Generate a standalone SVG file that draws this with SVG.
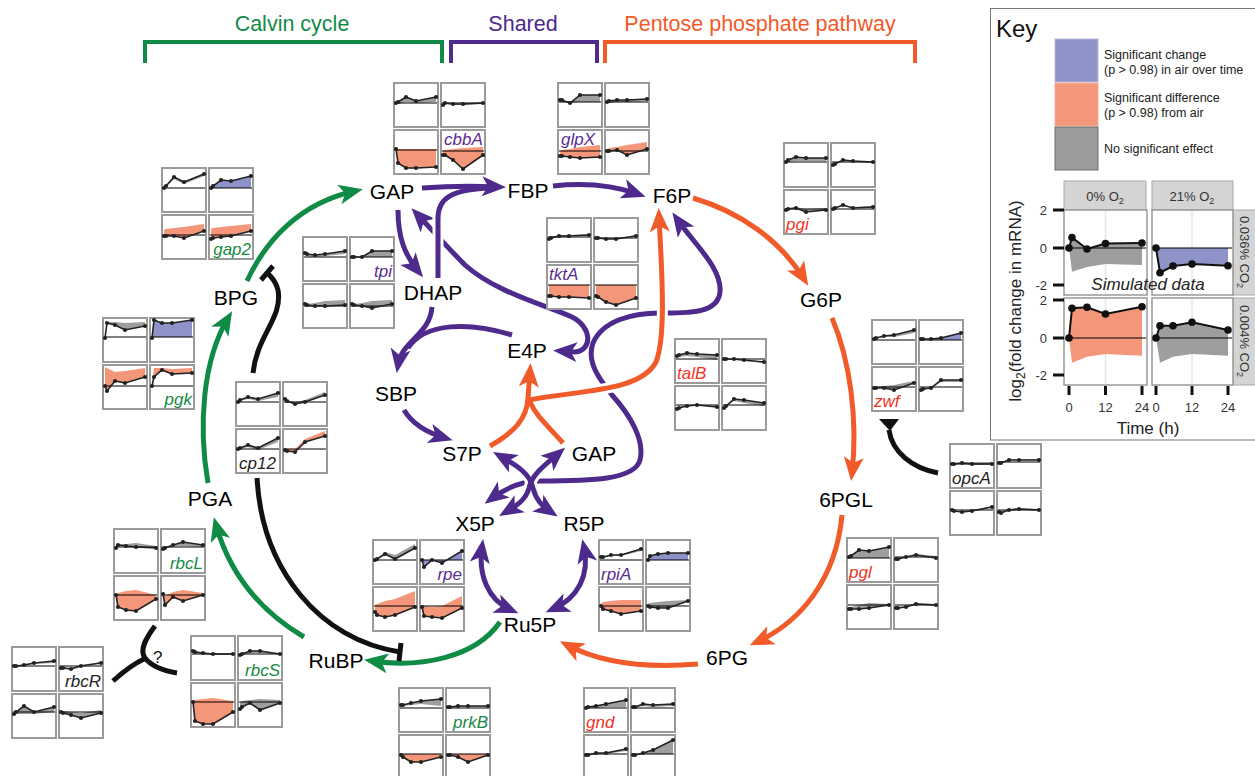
<svg xmlns="http://www.w3.org/2000/svg" width="1255" height="776" viewBox="0 0 1255 776">
<style>
text{font-family:"Liberation Sans",Arial,sans-serif}
.n{font-size:21px;fill:#000;text-anchor:middle}
.ti{font-size:21.5px;text-anchor:middle}
.bx{fill:#fff;stroke:#9a9a9a;stroke-width:2}
.z{stroke:#000;stroke-width:1}
.d{fill:none;stroke:#222;stroke-width:1.6;marker-start:url(#dot);marker-mid:url(#dot);marker-end:url(#dot)}
.g{fill:#9e9e9e}.o{fill:#f4967a}.b{fill:#8d92c8}
.gl{font-size:17px;font-style:italic}
.lg{fill:#178a45}.lp{fill:#5a2d91}.lr{fill:#ee3224}.lk{fill:#222}
.e{text-anchor:end}
.c{fill:none;stroke-width:5}
.cg{stroke:#0f8b45}.cp{stroke:#4d2a8c}.co{stroke:#f15a29}.ck{stroke:#111}
.h{fill:none;stroke:#fff;stroke-width:11}
.ag{marker-end:url(#mg)}.ap{marker-end:url(#mp)}.ao{marker-end:url(#mo)}
.pp{marker-start:url(#mp);marker-end:url(#mp)}
.kt{font-size:12.5px;fill:#222}
.ax{font-size:13px;fill:#333}
</style>
<defs>
<marker id="dot" markerUnits="userSpaceOnUse" viewBox="0 0 6 6" markerWidth="6" markerHeight="6" refX="3" refY="3"><circle cx="3" cy="3" r="2.1" fill="#222"/></marker>
<marker id="mg" markerUnits="userSpaceOnUse" viewBox="-20 -12 30 24" markerWidth="30" markerHeight="24" refX="0" refY="0" orient="auto-start-reverse"><path d="M8,0 L-16,-10 L-10,0 L-16,10Z" fill="#0f8b45"/></marker>
<marker id="mp" markerUnits="userSpaceOnUse" viewBox="-20 -12 30 24" markerWidth="30" markerHeight="24" refX="0" refY="0" orient="auto-start-reverse"><path d="M8,0 L-16,-10 L-10,0 L-16,10Z" fill="#4d2a8c"/></marker>
<marker id="mo" markerUnits="userSpaceOnUse" viewBox="-20 -12 30 24" markerWidth="30" markerHeight="24" refX="0" refY="0" orient="auto-start-reverse"><path d="M8,0 L-16,-10 L-10,0 L-16,10Z" fill="#f15a29"/></marker>
</defs>
<rect width="1255" height="776" fill="#fff"/>

<g id="headers">
<text class="ti" x="292" y="31" fill="#0f8b45">Calvin cycle</text>
<text class="ti" x="523" y="31" fill="#4d2a8c">Shared</text>
<text class="ti" x="760" y="31" fill="#f15a29">Pentose phosphate pathway</text>
<path d="M145,63 V42 H442 V63" fill="none" stroke="#0f8b45" stroke-width="4"/>
<path d="M451,63 V42 H597 V63" fill="none" stroke="#4d2a8c" stroke-width="4"/>
<path d="M605,63 V42 H915 V63" fill="none" stroke="#f15a29" stroke-width="4"/>
</g>

<g id="connectors">
<path class="c cg ag" d="M247,281 C266,240 300,203 355,191"/>
<path class="c cg ag" d="M208,483 C198,425 203,360 228,318"/>
<path class="c cg ag" d="M304,637 C262,612 230,575 216,525"/>
<path class="c cg ag" d="M500,622 C475,658 420,668 372,661"/>
<path class="c ck" d="M253,373 C257,335 283,318 278,290 C276,282 272,277 267,273"/>
<path class="c ck" d="M261,280 L273,266"/>
<path class="c ck" d="M257,478 C262,570 320,640 400,652"/>
<path class="c ck" d="M401,643 L399,661"/>
<path class="c ck" d="M113,681 C123,672 133,664 144,659"/>
<path class="c ck" d="M155,626 C146,638 139,650 145,658 C152,667 165,671 177,673"/>
<text x="153" y="663" font-size="17" fill="#111">?</text>
<path class="c ck" d="M938,473 C912,468 892,452 889,430"/>
<polygon points="879,419 899,419 890,431" fill="#111"/>

<path class="c cp pp" d="M417,214 C432,230 448,248 465,265 C495,292 545,305 572,317 C592,327 593,350 575,352 L561,351"/>
<path class="c cp pp" d="M677,219 C695,245 722,268 720,292 C718,313 690,313 665,313 C630,312 602,322 593,343 C586,362 600,380 612,395 C630,415 645,440 640,460 C635,480 590,481 540,481 C520,481 503,490 491,499"/>
<path class="h" d="M438,278 L438,218 C438,198 452,189 492,188"/>
<path class="c cp" d="M438,278 L438,218 C438,198 452,189 492,188"/>
<path class="c cp ap" d="M422,188 C450,186 475,186 498,187"/>
<path class="c cp ap" d="M553,186 C590,182 615,186 638,194"/>
<path class="c cp ap" d="M398,210 C398,238 405,255 418,271"/>
<path class="c cp ap" d="M432,307 C430,335 402,340 398,365"/>
<path class="c cp" d="M512,335 C470,322 425,322 408,348"/>
<path class="c cp ap" d="M404,410 C413,425 428,433 445,438"/>

<path class="h" d="M529,400 C580,390 640,392 656,362 C667,335 661,260 659,222"/>
<path class="c co ao" d="M529,400 C580,390 640,392 656,362 C667,335 661,260 659,216"/>
<path class="c co" d="M563,443 C548,426 536,416 530,402"/>
<path class="c co ao" d="M490,446 C515,432 527,418 528,398 L530,371"/>
<path class="c co ao" d="M693,198 C740,212 780,240 804,279"/>
<path class="c co ao" d="M832,318 C850,360 858,420 852,473"/>
<path class="c co ao" d="M842,515 C836,580 800,622 757,642"/>
<path class="c co ao" d="M698,664 C650,668 605,665 567,645"/>

<path class="h" d="M500,456 C518,466 530,474 533,488 C536,500 542,506 551,512"/>
<path class="h" d="M559,453 C545,465 532,474 529,488 C526,500 516,506 506,512"/>
<path class="c cp pp" d="M500,456 C518,466 530,474 533,488 C536,500 542,506 551,512"/>
<path class="c cp pp" d="M559,453 C545,465 532,474 529,488 C526,500 516,506 506,512"/>
<path class="c cp pp" d="M482,547 C478,575 488,600 511,610"/>
<path class="c cp pp" d="M584,547 C590,575 578,598 553,609"/>
</g>

<g id="node-GAP"><text class="n" x="392" y="199">GAP</text></g>
<g id="node-FBP"><text class="n" x="528" y="198">FBP</text></g>
<g id="node-F6P"><text class="n" x="672" y="203">F6P</text></g>
<g id="node-DHAP"><text class="n" x="433" y="300">DHAP</text></g>
<g id="node-E4P"><text class="n" x="527" y="358">E4P</text></g>
<g id="node-SBP"><text class="n" x="396" y="401">SBP</text></g>
<g id="node-S7P"><text class="n" x="462" y="461">S7P</text></g>
<g id="node-GAP2"><text class="n" x="594" y="461">GAP</text></g>
<g id="node-X5P"><text class="n" x="475" y="531">X5P</text></g>
<g id="node-R5P"><text class="n" x="584" y="531">R5P</text></g>
<g id="node-Ru5P"><text class="n" x="530" y="632">Ru5P</text></g>
<g id="node-RuBP"><text class="n" x="336" y="668">RuBP</text></g>
<g id="node-PGA"><text class="n" x="210" y="506">PGA</text></g>
<g id="node-BPG"><text class="n" x="236" y="305">BPG</text></g>
<g id="node-G6P"><text class="n" x="821" y="307">G6P</text></g>
<g id="node-6PGL"><text class="n" x="846" y="507">6PGL</text></g>
<g id="node-6PG"><text class="n" x="727" y="665">6PG</text></g>

<g id="gene-cbbA">
<g transform="translate(394,83)"><rect class="bx" width="44" height="44"/><polygon class="g" points="2,20 4,19 12,14 22,18 42,14 42,19 22,20 12,19 4,21 2,21"/><line class="z" x1="1" x2="43" y1="20" y2="20"/><polyline class="d" points="2,20 4,19 12,14 22,18 42,14"/></g>
<g transform="translate(441,83)"><rect class="bx" width="44" height="44"/><polygon class="g" points="2,22 4,20 12,21 22,21 42,20 42,21 22,22 12,22 4,21 2,21"/><line class="z" x1="1" x2="43" y1="20" y2="20"/><polyline class="d" points="2,22 4,20 12,21 22,21 42,20"/></g>
<g transform="translate(394,130)"><rect class="bx" width="44" height="44"/><polygon class="o" points="2,19 4,33 12,38 22,38 42,37 42,19 22,19 12,19 4,19 2,19"/><line class="z" x1="1" x2="43" y1="20" y2="20"/><polyline class="d" points="2,19 4,33 12,38 22,38 42,37"/></g>
<g transform="translate(441,130)"><rect class="bx" width="44" height="44"/><polygon class="o" points="2,25 4,25 12,30 22,39 42,25 42,17 22,18 12,19 4,20 2,21"/><line class="z" x1="1" x2="43" y1="21" y2="21"/><polyline class="d" points="2,25 4,25 12,30 22,39 42,25"/></g>
<text class="gl lp" x="444" y="145">cbbA</text>
</g>

<g id="gene-glpX">
<g transform="translate(558,83)"><rect class="bx" width="44" height="44"/><polygon class="g" points="2,17 4,17 12,20 22,12 42,12 42,19 22,19 12,20 4,19 2,19"/><line class="z" x1="1" x2="43" y1="19" y2="19"/><polyline class="d" points="2,17 4,17 12,20 22,12 42,12"/></g>
<g transform="translate(605,83)"><rect class="bx" width="44" height="44"/><polygon class="g" points="2,19 4,18 12,17 22,17 42,16 42,18 22,19 12,19 4,20 2,20"/><line class="z" x1="1" x2="43" y1="19" y2="19"/><polyline class="d" points="2,19 4,18 12,17 22,17 42,16"/></g>
<g transform="translate(558,130)"><rect class="bx" width="44" height="44"/><polygon class="o" points="2,26 4,26 12,27 22,28 42,27 42,15 22,17 12,19 4,20 2,21"/><line class="z" x1="1" x2="43" y1="21" y2="21"/><polyline class="d" points="2,26 4,26 12,27 22,28 42,27"/></g>
<g transform="translate(605,130)"><rect class="bx" width="44" height="44"/><polygon class="o" points="2,21 4,21 12,20 22,25 42,19 42,12 22,15 12,17 4,18 2,19"/><line class="z" x1="1" x2="43" y1="21" y2="21"/><polyline class="d" points="2,21 4,21 12,20 22,25 42,19"/></g>
<text class="gl lp" x="561" y="145">glpX</text>
</g>

<g id="gene-gap2">
<g transform="translate(162,168)"><rect class="bx" width="44" height="44"/><polygon class="g" points="2,20 4,18 12,9 22,14 42,6 42,8 22,16 12,11 4,19 2,20"/><line class="z" x1="1" x2="43" y1="20" y2="20"/><polyline class="d" points="2,20 4,18 12,9 22,14 42,6"/></g>
<g transform="translate(209,168)"><rect class="bx" width="44" height="44"/><polygon class="b" points="2,20 4,18 12,12 22,13 42,8 42,20 22,20 12,20 4,20 2,20"/><line class="z" x1="1" x2="43" y1="20" y2="20"/><polyline class="d" points="2,20 4,18 12,12 22,13 42,8"/></g>
<g transform="translate(162,215)"><rect class="bx" width="44" height="44"/><polygon class="o" points="2,21 4,21 12,21 22,23 42,16 42,9 22,12 12,13 4,14 2,15"/><line class="z" x1="1" x2="43" y1="20" y2="20"/><polyline class="d" points="2,21 4,21 12,21 22,23 42,16"/></g>
<g transform="translate(209,215)"><rect class="bx" width="44" height="44"/><polygon class="o" points="2,24 4,23 12,22 22,21 42,16 42,9 22,11 12,12 4,13 2,14"/><line class="z" x1="1" x2="43" y1="20" y2="20"/><polyline class="d" points="2,24 4,23 12,22 22,21 42,16"/></g>
<text class="gl lg e" x="251" y="255">gap2</text>
</g>

<g id="gene-tpi">
<g transform="translate(303,237)"><rect class="bx" width="44" height="44"/><polygon class="g" points="2,16 4,17 12,18 22,17 42,14 42,17 22,19 12,20 4,19 2,18"/><line class="z" x1="1" x2="43" y1="20" y2="20"/><polyline class="d" points="2,16 4,17 12,18 22,17 42,14"/></g>
<g transform="translate(350,237)"><rect class="bx" width="44" height="44"/><polygon class="g" points="2,20 4,20 12,20 22,14 42,14 42,20 22,20 12,20 4,20 2,20"/><line class="z" x1="1" x2="43" y1="20" y2="20"/><polyline class="d" points="2,20 4,20 12,20 22,14 42,14"/></g>
<g transform="translate(303,284)"><rect class="bx" width="44" height="44"/><polygon class="g" points="2,20 4,21 12,22 22,22 42,21 42,16 22,17 12,19 4,20 2,20"/><line class="z" x1="1" x2="43" y1="22" y2="22"/><polyline class="d" points="2,20 4,21 12,22 22,22 42,21"/></g>
<g transform="translate(350,284)"><rect class="bx" width="44" height="44"/><polygon class="g" points="2,20 4,21 12,22 22,24 42,20 42,16 22,17 12,19 4,20 2,20"/><line class="z" x1="1" x2="43" y1="22" y2="22"/><polyline class="d" points="2,20 4,21 12,22 22,24 42,20"/></g>
<text class="gl lp e" x="392" y="277">tpi</text>
</g>

<g id="gene-tktA">
<g transform="translate(547,218)"><rect class="bx" width="44" height="44"/><polygon class="g" points="2,21 4,20 12,18 22,18 42,17 42,16 22,17 12,17 4,19 2,19"/><line class="z" x1="1" x2="43" y1="19" y2="19"/><polyline class="d" points="2,21 4,20 12,18 22,18 42,17"/></g>
<g transform="translate(594,218)"><rect class="bx" width="44" height="44"/><polygon class="g" points="2,20 4,20 12,21 22,21 42,18 42,17 22,20 12,20 4,19 2,19"/><line class="z" x1="1" x2="43" y1="20" y2="20"/><polyline class="d" points="2,20 4,20 12,21 22,21 42,18"/></g>
<g transform="translate(547,265)"><rect class="bx" width="44" height="44"/><polygon class="o" points="2,31 4,31 12,32 22,32 42,33 42,20 22,20 12,20 4,20 2,20"/><line class="z" x1="1" x2="43" y1="20" y2="20"/><polyline class="d" points="2,31 4,31 12,32 22,32 42,33"/></g>
<g transform="translate(594,265)"><rect class="bx" width="44" height="44"/><polygon class="o" points="2,31 4,32 12,37 22,40 42,33 42,20 22,20 12,20 4,20 2,20"/><line class="z" x1="1" x2="43" y1="20" y2="20"/><polyline class="d" points="2,31 4,32 12,37 22,40 42,33"/></g>
<text class="gl lp" x="549" y="280">tktA</text>
</g>

<g id="gene-pgk">
<g transform="translate(103,318)"><rect class="bx" width="44" height="44"/><polygon class="g" points="2,20 4,5 12,7 22,12 42,8 42,4 22,5 12,4 4,4 2,20"/><line class="z" x1="1" x2="43" y1="19" y2="19"/><polyline class="d" points="2,20 4,5 12,7 22,12 42,8"/></g>
<g transform="translate(150,318)"><rect class="bx" width="44" height="44"/><polygon class="b" points="2,20 4,2 12,5 22,5 42,2 42,19 22,19 12,19 4,19 2,19"/><line class="z" x1="1" x2="43" y1="19" y2="19"/><polyline class="d" points="2,20 4,2 12,5 22,5 42,2"/></g>
<g transform="translate(103,365)"><rect class="bx" width="44" height="44"/><polygon class="o" points="2,21 4,26 12,16 22,18 42,12 42,3 22,6 12,7 4,3 2,2"/><line class="z" x1="1" x2="43" y1="21" y2="21"/><polyline class="d" points="2,21 4,26 12,16 22,18 42,12"/></g>
<g transform="translate(150,365)"><rect class="bx" width="44" height="44"/><polygon class="o" points="2,21 4,12 12,5 22,9 42,8 42,3 22,4 12,3 4,3 2,21"/><line class="z" x1="1" x2="43" y1="21" y2="21"/><polyline class="d" points="2,21 4,12 12,5 22,9 42,8"/></g>
<text class="gl lg e" x="192" y="405">pgk</text>
</g>

<g id="gene-cp12">
<g transform="translate(236,382)"><rect class="bx" width="44" height="44"/><polygon class="g" points="2,20 4,18 12,15 22,17 42,11 42,15 22,19 12,17 4,19 2,20"/><line class="z" x1="1" x2="43" y1="20" y2="20"/><polyline class="d" points="2,20 4,18 12,15 22,17 42,11"/></g>
<g transform="translate(283,382)"><rect class="bx" width="44" height="44"/><polygon class="g" points="2,17 4,19 12,22 22,20 42,13 42,10 22,18 12,20 4,18 2,17"/><line class="z" x1="1" x2="43" y1="20" y2="20"/><polyline class="d" points="2,17 4,19 12,22 22,20 42,13"/></g>
<g transform="translate(236,429)"><rect class="bx" width="44" height="44"/><polygon class="g" points="2,20 4,19 12,16 22,19 42,9 42,13 22,21 12,18 4,20 2,20"/><line class="z" x1="1" x2="43" y1="20" y2="20"/><polyline class="d" points="2,20 4,19 12,16 22,19 42,9"/></g>
<g transform="translate(283,429)"><rect class="bx" width="44" height="44"/><polygon class="o" points="2,21 4,22 12,23 22,13 42,7 42,2 22,10 12,20 4,20 2,20"/><line class="z" x1="1" x2="43" y1="20" y2="20"/><polyline class="d" points="2,21 4,22 12,23 22,13 42,7"/></g>
<text class="gl lk" x="239" y="469">cp12</text>
</g>

<g id="gene-rpe">
<g transform="translate(373,540)"><rect class="bx" width="44" height="44"/><polygon class="g" points="2,20 4,19 12,14 22,19 42,8 42,4 22,15 12,12 4,19 2,20"/><line class="z" x1="1" x2="43" y1="20" y2="20"/><polyline class="d" points="2,20 4,19 12,14 22,19 42,8"/></g>
<g transform="translate(420,540)"><rect class="bx" width="44" height="44"/><polygon class="b" points="2,20 4,27 12,20 22,23 42,11 42,20 22,20 12,20 4,20 2,20"/><line class="z" x1="1" x2="43" y1="20" y2="20"/><polyline class="d" points="2,20 4,27 12,20 22,23 42,11"/></g>
<g transform="translate(373,587)"><rect class="bx" width="44" height="44"/><polygon class="o" points="2,25 4,28 12,30 22,28 42,20 42,4 22,12 12,14 4,17 2,18"/><line class="z" x1="1" x2="43" y1="19" y2="19"/><polyline class="d" points="2,25 4,28 12,30 22,28 42,20"/></g>
<g transform="translate(420,587)"><rect class="bx" width="44" height="44"/><polygon class="o" points="2,20 4,29 12,30 22,31 42,21 42,9 22,19 12,20 4,19 2,18"/><line class="z" x1="1" x2="43" y1="19" y2="19"/><polyline class="d" points="2,20 4,29 12,30 22,31 42,21"/></g>
<text class="gl lp e" x="462" y="580">rpe</text>
</g>

<g id="gene-rpiA">
<g transform="translate(599,540)"><rect class="bx" width="44" height="44"/><polygon class="g" points="2,17 4,17 12,15 22,15 42,9 42,11 22,16 12,16 4,18 2,18"/><line class="z" x1="1" x2="43" y1="20" y2="20"/><polyline class="d" points="2,17 4,17 12,15 22,15 42,9"/></g>
<g transform="translate(646,540)"><rect class="bx" width="44" height="44"/><polygon class="b" points="2,20 4,16 12,14 22,13 42,13 42,20 22,20 12,20 4,20 2,20"/><line class="z" x1="1" x2="43" y1="20" y2="20"/><polyline class="d" points="2,20 4,16 12,14 22,13 42,13"/></g>
<g transform="translate(599,587)"><rect class="bx" width="44" height="44"/><polygon class="o" points="2,19 4,22 12,24 22,27 42,24 42,13 22,13 12,14 4,15 2,17"/><line class="z" x1="1" x2="43" y1="19" y2="19"/><polyline class="d" points="2,19 4,22 12,24 22,27 42,24"/></g>
<g transform="translate(646,587)"><rect class="bx" width="44" height="44"/><polygon class="g" points="2,19 4,20 12,21 22,21 42,14 42,13 22,14 12,15 4,16 2,17"/><line class="z" x1="1" x2="43" y1="19" y2="19"/><polyline class="d" points="2,19 4,20 12,21 22,21 42,14"/></g>
<text class="gl lp" x="601" y="580">rpiA</text>
</g>

<g id="gene-rbcL">
<g transform="translate(114,529)"><rect class="bx" width="44" height="44"/><polygon class="g" points="2,19 4,16 12,17 22,18 42,19 42,17 22,14 12,15 4,15 2,18"/><line class="z" x1="1" x2="43" y1="18" y2="18"/><polyline class="d" points="2,19 4,16 12,17 22,18 42,19"/></g>
<g transform="translate(161,529)"><rect class="bx" width="44" height="44"/><polygon class="g" points="2,20 4,19 12,16 22,13 42,16 42,18 22,17 12,17 4,19 2,20"/><line class="z" x1="1" x2="43" y1="18" y2="18"/><polyline class="d" points="2,20 4,19 12,16 22,13 42,16"/></g>
<g transform="translate(114,576)"><rect class="bx" width="44" height="44"/><polygon class="o" points="2,19 4,31 12,34 22,35 42,23 42,19 22,14 12,15 4,17 2,19"/><line class="z" x1="1" x2="43" y1="19" y2="19"/><polyline class="d" points="2,19 4,31 12,34 22,35 42,23"/></g>
<g transform="translate(161,576)"><rect class="bx" width="44" height="44"/><polygon class="o" points="2,18 4,29 12,21 22,25 42,19 42,17 22,14 12,16 4,20 2,18"/><line class="z" x1="1" x2="43" y1="19" y2="19"/><polyline class="d" points="2,18 4,29 12,21 22,25 42,19"/></g>
<text class="gl lg e" x="203" y="569">rbcL</text>
</g>

<g id="gene-rbcR">
<g transform="translate(12,647)"><rect class="bx" width="44" height="44"/><polygon class="g" points="2,19 4,19 12,18 22,16 42,14 42,16 22,17 12,19 4,20 2,20"/><line class="z" x1="1" x2="43" y1="19" y2="19"/><polyline class="d" points="2,19 4,19 12,18 22,16 42,14"/></g>
<g transform="translate(59,647)"><rect class="bx" width="44" height="44"/><polygon class="g" points="2,21 4,21 12,22 22,19 42,16 42,15 22,18 12,21 4,20 2,20"/><line class="z" x1="1" x2="43" y1="19" y2="19"/><polyline class="d" points="2,21 4,21 12,22 22,19 42,16"/></g>
<g transform="translate(12,694)"><rect class="bx" width="44" height="44"/><polygon class="g" points="2,20 4,18 12,12 22,18 42,13 42,18 22,20 12,20 4,20 2,21"/><line class="z" x1="1" x2="43" y1="18" y2="18"/><polyline class="d" points="2,20 4,18 12,12 22,18 42,13"/></g>
<g transform="translate(59,694)"><rect class="bx" width="44" height="44"/><polygon class="g" points="2,18 4,19 12,21 22,24 42,19 42,16 22,19 12,18 4,17 2,17"/><line class="z" x1="1" x2="43" y1="18" y2="18"/><polyline class="d" points="2,18 4,19 12,21 22,24 42,19"/></g>
<text class="gl lk e" x="101" y="687">rbcR</text>
</g>

<g id="gene-rbcS">
<g transform="translate(191,636)"><rect class="bx" width="44" height="44"/><polygon class="g" points="2,15 4,16 12,17 22,18 42,18 42,19 22,19 12,18 4,17 2,16"/><line class="z" x1="1" x2="43" y1="18" y2="18"/><polyline class="d" points="2,15 4,16 12,17 22,18 42,18"/></g>
<g transform="translate(238,636)"><rect class="bx" width="44" height="44"/><polygon class="g" points="2,19 4,18 12,15 22,15 42,18 42,18 22,17 12,17 4,19 2,19"/><line class="z" x1="1" x2="43" y1="18" y2="18"/><polyline class="d" points="2,19 4,18 12,15 22,15 42,18"/></g>
<g transform="translate(191,683)"><rect class="bx" width="44" height="44"/><polygon class="o" points="2,19 4,38 12,41 22,41 42,29 42,18 22,15 12,16 4,17 2,18"/><line class="z" x1="1" x2="43" y1="19" y2="19"/><polyline class="d" points="2,19 4,38 12,41 22,41 42,29"/></g>
<g transform="translate(238,683)"><rect class="bx" width="44" height="44"/><polygon class="g" points="2,26 4,24 12,20 22,27 42,20 42,17 22,16 12,17 4,18 2,20"/><line class="z" x1="1" x2="43" y1="19" y2="19"/><polyline class="d" points="2,26 4,24 12,20 22,27 42,20"/></g>
<text class="gl lg e" x="280" y="676">rbcS</text>
</g>

<g id="gene-prkB">
<g transform="translate(399,688)"><rect class="bx" width="44" height="44"/><polygon class="g" points="2,17 4,17 12,15 22,13 42,11 42,18 22,16 12,17 4,18 2,18"/><line class="z" x1="1" x2="43" y1="20" y2="20"/><polyline class="d" points="2,17 4,17 12,15 22,13 42,11"/></g>
<g transform="translate(446,688)"><rect class="bx" width="44" height="44"/><polygon class="g" points="2,19 4,19 12,18 22,18 42,18 42,19 22,19 12,19 4,20 2,20"/><line class="z" x1="1" x2="43" y1="20" y2="20"/><polyline class="d" points="2,19 4,19 12,18 22,18 42,18"/></g>
<g transform="translate(399,735)"><rect class="bx" width="44" height="44"/><polygon class="o" points="2,20 4,22 12,27 22,27 42,22 42,19 22,19 12,19 4,19 2,19"/><line class="z" x1="1" x2="43" y1="19" y2="19"/><polyline class="d" points="2,20 4,22 12,27 22,27 42,22"/></g>
<g transform="translate(446,735)"><rect class="bx" width="44" height="44"/><polygon class="o" points="2,20 4,20 12,22 22,27 42,20 42,19 22,19 12,19 4,19 2,19"/><line class="z" x1="1" x2="43" y1="19" y2="19"/><polyline class="d" points="2,20 4,20 12,22 22,27 42,20"/></g>
<text class="gl lg e" x="488" y="728">prkB</text>
</g>

<g id="gene-gnd">
<g transform="translate(584,688)"><rect class="bx" width="44" height="44"/><polygon class="g" points="2,20 4,19 12,18 22,16 42,12 42,19 22,19 12,20 4,20 2,20"/><line class="z" x1="1" x2="43" y1="20" y2="20"/><polyline class="d" points="2,20 4,19 12,18 22,16 42,12"/></g>
<g transform="translate(631,688)"><rect class="bx" width="44" height="44"/><polygon class="g" points="2,19 4,19 12,16 22,17 42,16 42,18 22,19 12,18 4,20 2,20"/><line class="z" x1="1" x2="43" y1="20" y2="20"/><polyline class="d" points="2,19 4,19 12,16 22,17 42,16"/></g>
<g transform="translate(584,735)"><rect class="bx" width="44" height="44"/><polygon class="g" points="2,20 4,20 12,18 22,18 42,14 42,16 22,19 12,19 4,21 2,21"/><line class="z" x1="1" x2="43" y1="19" y2="19"/><polyline class="d" points="2,20 4,20 12,18 22,18 42,14"/></g>
<g transform="translate(631,735)"><rect class="bx" width="44" height="44"/><polygon class="g" points="2,20 4,20 12,18 22,15 42,5 42,19 22,19 12,19 4,20 2,20"/><line class="z" x1="1" x2="43" y1="19" y2="19"/><polyline class="d" points="2,20 4,20 12,18 22,15 42,5"/></g>
<text class="gl lr" x="586" y="728">gnd</text>
</g>

<g id="gene-pgi">
<g transform="translate(784,143)"><rect class="bx" width="44" height="44"/><polygon class="g" points="2,19 4,17 12,14 22,15 42,15 42,18 22,18 12,18 4,19 2,19"/><line class="z" x1="1" x2="43" y1="19" y2="19"/><polyline class="d" points="2,19 4,17 12,14 22,15 42,15"/></g>
<g transform="translate(831,143)"><rect class="bx" width="44" height="44"/><polygon class="g" points="2,22 4,21 12,17 22,18 42,19 42,20 22,19 12,18 4,21 2,22"/><line class="z" x1="1" x2="43" y1="19" y2="19"/><polyline class="d" points="2,22 4,21 12,17 22,18 42,19"/></g>
<g transform="translate(784,190)"><rect class="bx" width="44" height="44"/><polygon class="g" points="2,20 4,19 12,18 22,22 42,20 42,18 22,19 12,17 4,18 2,19"/><line class="z" x1="1" x2="43" y1="19" y2="19"/><polyline class="d" points="2,20 4,19 12,18 22,22 42,20"/></g>
<g transform="translate(831,190)"><rect class="bx" width="44" height="44"/><polygon class="g" points="2,19 4,18 12,15 22,18 42,17 42,16 22,17 12,16 4,18 2,19"/><line class="z" x1="1" x2="43" y1="19" y2="19"/><polyline class="d" points="2,19 4,18 12,15 22,18 42,17"/></g>
<text class="gl lr" x="786" y="230">pgi</text>
</g>

<g id="gene-talB">
<g transform="translate(675,339)"><rect class="bx" width="44" height="44"/><polygon class="g" points="2,17 4,16 12,14 22,15 42,16 42,21 22,18 12,17 4,18 2,18"/><line class="z" x1="1" x2="43" y1="20" y2="20"/><polyline class="d" points="2,17 4,16 12,14 22,15 42,16"/></g>
<g transform="translate(722,339)"><rect class="bx" width="44" height="44"/><polygon class="g" points="2,20 4,20 12,20 22,21 42,23 42,24 22,22 12,21 4,20 2,20"/><line class="z" x1="1" x2="43" y1="20" y2="20"/><polyline class="d" points="2,20 4,20 12,20 22,21 42,23"/></g>
<g transform="translate(675,386)"><rect class="bx" width="44" height="44"/><polygon class="g" points="2,23 4,22 12,20 22,19 42,21 42,20 22,19 12,19 4,21 2,22"/><line class="z" x1="1" x2="43" y1="19" y2="19"/><polyline class="d" points="2,23 4,22 12,20 22,19 42,21"/></g>
<g transform="translate(722,386)"><rect class="bx" width="44" height="44"/><polygon class="g" points="2,22 4,20 12,13 22,14 42,17 42,20 22,17 12,15 4,21 2,22"/><line class="z" x1="1" x2="43" y1="19" y2="19"/><polyline class="d" points="2,22 4,20 12,13 22,14 42,17"/></g>
<text class="gl lr" x="677" y="379">talB</text>
</g>

<g id="gene-zwf">
<g transform="translate(872,320)"><rect class="bx" width="44" height="44"/><polygon class="g" points="2,19 4,18 12,16 22,15 42,10 42,13 22,17 12,17 4,19 2,20"/><line class="z" x1="1" x2="43" y1="20" y2="20"/><polyline class="d" points="2,19 4,18 12,16 22,15 42,10"/></g>
<g transform="translate(919,320)"><rect class="bx" width="44" height="44"/><polygon class="b" points="2,19 4,19 12,19 22,18 42,13 42,20 22,20 12,20 4,20 2,20"/><line class="z" x1="1" x2="43" y1="20" y2="20"/><polyline class="d" points="2,19 4,19 12,19 22,18 42,13"/></g>
<g transform="translate(872,367)"><rect class="bx" width="44" height="44"/><polygon class="g" points="2,21 4,21 12,21 22,23 42,16 42,14 22,18 12,19 4,20 2,20"/><line class="z" x1="1" x2="43" y1="20" y2="20"/><polyline class="d" points="2,21 4,21 12,21 22,23 42,16"/></g>
<g transform="translate(919,367)"><rect class="bx" width="44" height="44"/><polygon class="g" points="2,23 4,22 12,21 22,13 42,13 42,15 22,15 12,22 4,22 2,22"/><line class="z" x1="1" x2="43" y1="20" y2="20"/><polyline class="d" points="2,23 4,22 12,21 22,13 42,13"/></g>
<text class="gl lr" x="874" y="407">zwf</text>
</g>

<g id="gene-opcA">
<g transform="translate(950,444)"><rect class="bx" width="44" height="44"/><polygon class="g" points="2,20 4,20 12,19 22,20 42,20 42,18 22,18 12,18 4,19 2,19"/><line class="z" x1="1" x2="43" y1="20" y2="20"/><polyline class="d" points="2,20 4,20 12,19 22,20 42,20"/></g>
<g transform="translate(997,444)"><rect class="bx" width="44" height="44"/><polygon class="g" points="2,19 4,19 12,16 22,16 42,16 42,15 22,15 12,15 4,18 2,18"/><line class="z" x1="1" x2="43" y1="18" y2="18"/><polyline class="d" points="2,19 4,19 12,16 22,16 42,16"/></g>
<g transform="translate(950,491)"><rect class="bx" width="44" height="44"/><polygon class="g" points="2,19 4,20 12,21 22,20 42,16 42,15 22,19 12,20 4,20 2,19"/><line class="z" x1="1" x2="43" y1="19" y2="19"/><polyline class="d" points="2,19 4,20 12,21 22,20 42,16"/></g>
<g transform="translate(997,491)"><rect class="bx" width="44" height="44"/><polygon class="g" points="2,21 4,22 12,19 22,18 42,19 42,18 22,17 12,18 4,20 2,20"/><line class="z" x1="1" x2="43" y1="19" y2="19"/><polyline class="d" points="2,21 4,22 12,19 22,18 42,19"/></g>
<text class="gl lk" x="952" y="484">opcA</text>
</g>

<g id="gene-pgl">
<g transform="translate(847,538)"><rect class="bx" width="44" height="44"/><polygon class="g" points="2,19 4,18 12,12 22,13 42,9 42,20 22,20 12,20 4,20 2,20"/><line class="z" x1="1" x2="43" y1="20" y2="20"/><polyline class="d" points="2,19 4,18 12,12 22,13 42,9"/></g>
<g transform="translate(894,538)"><rect class="bx" width="44" height="44"/><polygon class="g" points="2,21 4,21 12,19 22,17 42,20 42,18 22,16 12,18 4,20 2,20"/><line class="z" x1="1" x2="43" y1="19" y2="19"/><polyline class="d" points="2,21 4,21 12,19 22,17 42,20"/></g>
<g transform="translate(847,585)"><rect class="bx" width="44" height="44"/><polygon class="g" points="2,24 4,24 12,24 22,23 42,20 42,19 22,18 12,20 4,22 2,22"/><line class="z" x1="1" x2="43" y1="20" y2="20"/><polyline class="d" points="2,24 4,24 12,24 22,23 42,20"/></g>
<g transform="translate(894,585)"><rect class="bx" width="44" height="44"/><polygon class="g" points="2,23 4,23 12,22 22,19 42,20 42,19 22,18 12,21 4,22 2,22"/><line class="z" x1="1" x2="43" y1="20" y2="20"/><polyline class="d" points="2,23 4,23 12,22 22,19 42,20"/></g>
<text class="gl lr" x="849" y="578">pgl</text>
</g>

<g id="key">
<rect x="990.5" y="8.5" width="280" height="431.5" fill="#fff" stroke="#777" stroke-width="1"/>
<text x="996" y="37" font-size="24" fill="#111">Key</text>
<rect x="1055" y="39" width="43" height="43" fill="#8e93c9" stroke="#b5b8dc" stroke-width="1"/>
<rect x="1055" y="83" width="43" height="43" fill="#f4967a" stroke="#f7b29d" stroke-width="1"/>
<rect x="1055" y="127" width="43" height="43" fill="#9c9c9e" stroke="#6f6f70" stroke-width="1"/>
<text class="kt" x="1104" y="59">Significant change</text>
<text class="kt" x="1104" y="74">(p &gt; 0.98) in air over time</text>
<text class="kt" x="1104" y="102">Significant difference</text>
<text class="kt" x="1104" y="117">(p &gt; 0.98) from air</text>
<text class="kt" x="1104" y="153">No significant effect</text>
<rect x="1064" y="181" width="82" height="29" fill="#d4d4d4" stroke="#aaa"/>
<rect x="1152" y="181" width="81" height="29" fill="#d4d4d4" stroke="#aaa"/>
<text class="ax" x="1105" y="201" text-anchor="middle">0% O<tspan font-size="9" dy="3">2</tspan></text>
<text class="ax" x="1192" y="201" text-anchor="middle">21% O<tspan font-size="9" dy="3">2</tspan></text>
<rect x="1233" y="210" width="30" height="85" fill="#d4d4d4" stroke="#aaa"/>
<rect x="1233" y="298" width="30" height="87" fill="#d4d4d4" stroke="#aaa"/>
<text class="ax" transform="translate(1240,252) rotate(90)" text-anchor="middle">0.036% CO<tspan font-size="9" dy="3">2</tspan></text>
<text class="ax" transform="translate(1240,341) rotate(90)" text-anchor="middle">0.004% CO<tspan font-size="9" dy="3">2</tspan></text>
<g fill="#fff" stroke="#999" stroke-width="1.5">
<rect x="1064" y="210" width="83" height="85"/><rect x="1152" y="210" width="81" height="85"/>
<rect x="1064" y="298" width="83" height="87"/><rect x="1152" y="298" width="81" height="87"/>
</g>
<g stroke="#e6e6e6" stroke-width="1.5">
<line x1="1105.5" y1="211" x2="1105.5" y2="294"/><line x1="1192" y1="211" x2="1192" y2="294"/>
<line x1="1105.5" y1="299" x2="1105.5" y2="384"/><line x1="1192" y1="299" x2="1192" y2="384"/>
</g>
<polygon fill="#9e9e9e" points="1069,248 1072,237.5 1087,249 1105.5,243.5 1142,243 1142,265 1105.5,264 1087,267 1072,271.7"/>
<polygon fill="#8e93c9" points="1156,248 1160,272.7 1173,266 1192,264 1228,265.7 1228,248"/>
<polygon fill="#f4967a" points="1069,338 1072,308.3 1087,307.3 1105.5,314 1142,306.7 1142,355.7 1105.5,354 1087,356.7 1072,362.7"/>
<polygon fill="#9e9e9e" points="1156,338 1160,325.7 1173,325.7 1192,322.3 1228,330 1228,355.7 1192,354 1173,356.7 1160,362.7"/>
<g stroke="#000" stroke-width="1">
<line x1="1065" y1="248" x2="1146" y2="248"/><line x1="1153" y1="248" x2="1232" y2="248"/>
<line x1="1065" y1="338" x2="1146" y2="338"/><line x1="1153" y1="338" x2="1232" y2="338"/>
</g>
<g fill="none" stroke="#111" stroke-width="2" marker-start="url(#kd)" marker-mid="url(#kd)" marker-end="url(#kd)">
<polyline points="1069,248 1072,237.5 1087,249 1105.5,243.5 1142,243"/>
<polyline points="1156,248 1160,272.7 1173,266 1192,264 1228,265.7"/>
<polyline points="1069,338 1072,308.3 1087,307.3 1105.5,314 1142,306.7"/>
<polyline points="1156,338 1160,325.7 1173,325.7 1192,322.3 1228,330"/>
</g>
<marker id="kd" markerUnits="userSpaceOnUse" viewBox="0 0 10 10" markerWidth="10" markerHeight="10" refX="5" refY="5"><circle cx="5" cy="5" r="3.8" fill="#111"/></marker>
<g stroke="#111" stroke-width="3">
<line x1="1053" y1="210" x2="1064" y2="210"/><line x1="1053" y1="248" x2="1064" y2="248"/><line x1="1053" y1="285" x2="1064" y2="285"/>
<line x1="1053" y1="300" x2="1064" y2="300"/><line x1="1053" y1="338" x2="1064" y2="338"/><line x1="1053" y1="375" x2="1064" y2="375"/>
<line x1="1069" y1="386" x2="1069" y2="395"/><line x1="1105.5" y1="386" x2="1105.5" y2="395"/><line x1="1142" y1="386" x2="1142" y2="395"/>
<line x1="1156" y1="386" x2="1156" y2="395"/><line x1="1192" y1="386" x2="1192" y2="395"/><line x1="1228" y1="386" x2="1228" y2="395"/>
</g>
<g class="ax" text-anchor="end">
<text x="1047" y="215">2</text><text x="1047" y="253">0</text><text x="1047" y="290">-2</text>
<text x="1047" y="305">2</text><text x="1047" y="343">0</text><text x="1047" y="380">-2</text>
</g>
<g class="ax" text-anchor="middle">
<text x="1069" y="412">0</text><text x="1105.5" y="412">12</text><text x="1142" y="412">24</text>
<text x="1156" y="412">0</text><text x="1192" y="412">12</text><text x="1228" y="412">24</text>
</g>
<text x="1148" y="290" font-size="17" font-style="italic" fill="#222" text-anchor="middle">Simulated data</text>
<text x="1148" y="434" font-size="17" fill="#222" text-anchor="middle">Time (h)</text>
<text transform="translate(1021,301) rotate(-90)" font-size="17" fill="#222" text-anchor="middle">log<tspan font-size="12" dy="4">2</tspan><tspan dy="-4">(fold change in mRNA)</tspan></text>
</g>
</svg>
